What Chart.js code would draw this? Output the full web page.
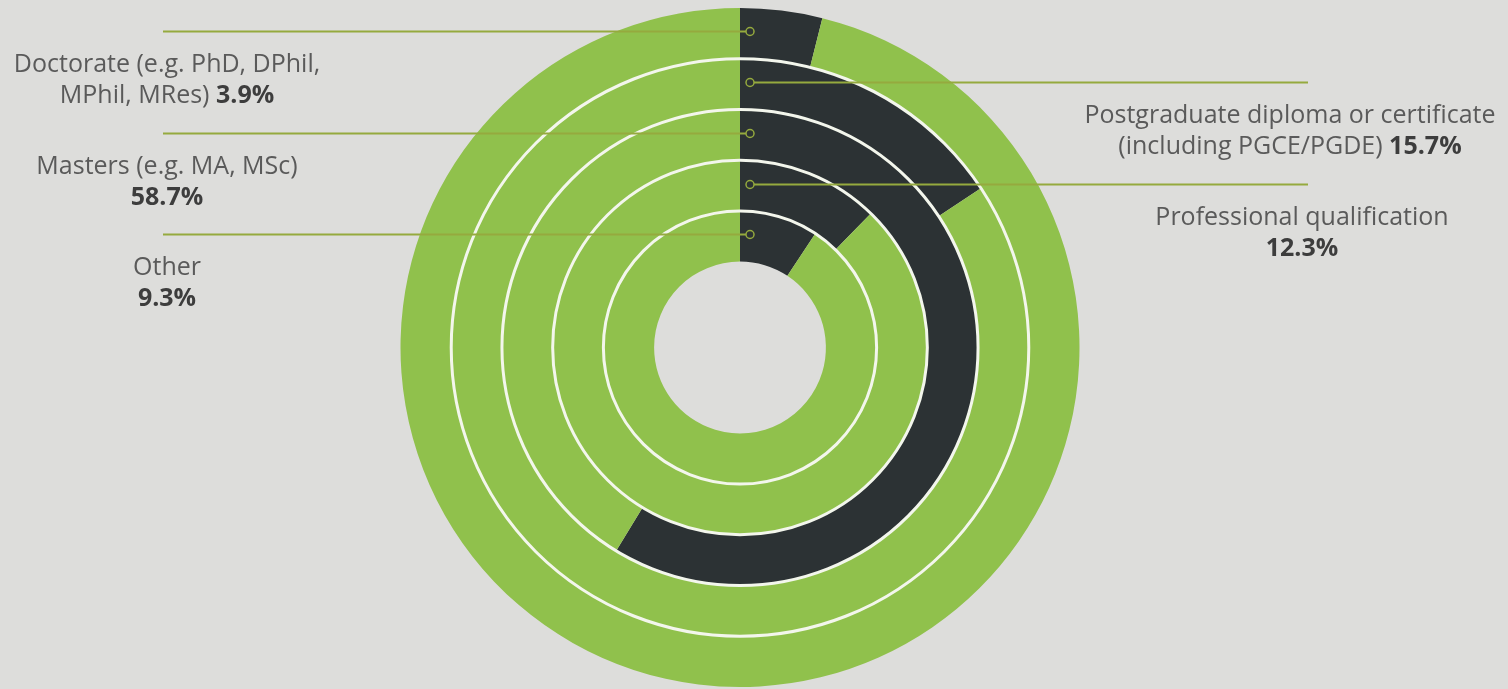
<!DOCTYPE html>
<html>
<head>
<meta charset="utf-8">
<script src="https://cdn.jsdelivr.net/npm/chart.js@4"></script>
<style>
  html, body { margin: 0; padding: 0; background: #dddddb; }
  #wrap { width: 1508px; height: 689px; position: relative; }
</style>
</head>
<body>
<div id="wrap"><canvas id="myChart"></canvas></div>
<script>
// rings, outermost first
const categories = ['Doctorate', 'Postgraduate diploma or certificate', 'Masters', 'Professional qualification', 'Other'];
const shares = [3.9, 15.7, 58.7, 12.3, 9.3];
const labelText = [
    ['Doctorate (e.g. PhD, DPhil,', 'MPhil, MRes) '],
    ['Postgraduate diploma or certificate', '(including PGCE/PGDE) '],
    ['Masters (e.g. MA, MSc)', ''],
    ['Professional qualification', ''],
    ['Other', '']
];
const labelSide = ['left', 'right', 'left', 'right', 'left'];

const green = '#90c14c';
const dark = '#2c3234';
const lineCol = '#95aa3e';

const ringDecor = {
    id: 'ringDecor',
    afterDatasetsDraw(chart) {
        const ctx = chart.ctx;
        const metas = chart.data.datasets.map((d, i) => chart.getDatasetMeta(i));
        const cx = metas[0].data[0].x, cy = metas[0].data[0].y;
        ctx.save();
        // white gaps between rings
        ctx.strokeStyle = '#f3f6ec';
        ctx.lineWidth = 3;
        metas.slice(1).forEach(m => {
            ctx.beginPath();
            ctx.arc(cx, cy, m.data[0].outerRadius, 0, Math.PI * 2);
            ctx.stroke();
        });
        metas.forEach((m, i) => {
            const arc = m.data[0];
            const y = Math.round(cy - (arc.innerRadius + arc.outerRadius) / 2) - 1.5;
            const mx = cx + 10;
            ctx.strokeStyle = lineCol;
            ctx.lineWidth = 2;
            ctx.beginPath();
            if (labelSide[i] == 'left') {
                ctx.moveTo(163, y); ctx.lineTo(mx - 4, y);
            } else {
                ctx.moveTo(mx + 4, y); ctx.lineTo(1308, y);
            }
            ctx.stroke();
            ctx.lineWidth = 1.5;
            ctx.beginPath();
            ctx.arc(mx, y, 4, 0, Math.PI * 2);
            ctx.stroke();

            // text
            const tx = labelSide[i] == 'left' ? 167 : (i == 1 ? 1290 : 1302);
            const pct = shares[i].toFixed(1) + '%';
            const reg = '25px "Open Sans"', bold = 'bold 25px "Open Sans"';
            ctx.textBaseline = 'middle';
            ctx.textAlign = 'left';
            ctx.font = reg;
            ctx.fillStyle = '#5a5a5a';
            const l1 = labelText[i][0];
            ctx.fillText(l1, tx - ctx.measureText(l1).width / 2, y + 33);
            const l2 = labelText[i][1];
            const w2 = ctx.measureText(l2).width;
            ctx.font = bold;
            const wp = ctx.measureText(pct).width;
            const x0 = tx - (w2 + wp) / 2;
            ctx.font = reg;
            ctx.fillStyle = '#5a5a5a';
            ctx.fillText(l2, x0, y + 64);
            ctx.font = bold;
            ctx.fillStyle = '#3d3d3d';
            ctx.fillText(pct, x0 + w2, y + 64);
        });
        ctx.restore();
    }
};

const ctx = document.getElementById('myChart');
const myChart = new Chart(ctx, {
    type: 'doughnut',
    data: {
        labels: ['share', 'rest'],
        datasets: categories.map((c, i) => ({
            label: c,
            data: [shares[i], 100 - shares[i]],
            backgroundColor: [dark, green],
            borderWidth: 0,
            offset: 0,
            hoverOffset: 0
        }))
    },
    options: {
        responsive: true,
        maintainAspectRatio: false,
        animation: false,
        cutout: '25.3%',
        layout: { padding: { left: 0, right: 28, top: 8, bottom: 2 } },
        plugins: {
            legend: { display: false },
            tooltip: { enabled: false }
        }
    },
    plugins: [ringDecor]
});
</script>
</body>
</html>
